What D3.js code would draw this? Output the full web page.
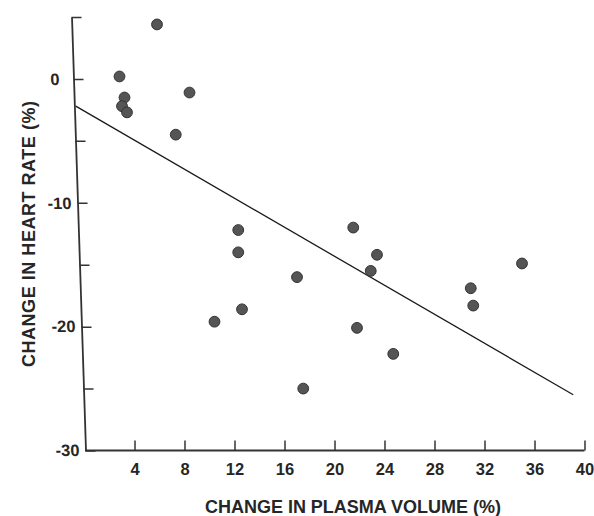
<!DOCTYPE html>
<html>
<head>
<meta charset="utf-8">
<script src="https://cdn.jsdelivr.net/npm/d3@7"></script>
<style>
  body { margin: 0; background: #fff; }
  text { font-family: "Liberation Sans", Arial, Helvetica, sans-serif; font-weight: bold; fill: #262626; }
</style>
</head>
<body>
<svg id="chart" width="594" height="516"></svg>
<script>
// ---- data ----
var plasmaChange = [5.8, 2.8, 3.2, 3.0, 3.4, 8.4, 7.3, 12.3, 12.3, 21.5, 23.4,
                    22.9, 17.0, 12.6, 10.4, 17.5, 35.0, 30.9, 31.1, 21.8, 24.7];
var heartChange  = [4.4, 0.2, -1.5, -2.2, -2.7, -1.1, -4.5, -12.2, -14.0, -12.0, -14.2,
                    -15.5, -16.0, -18.6, -19.6, -25.0, -14.9, -16.9, -18.3, -20.1, -22.2];
var fitX = [-0.7, 39.1];
var fitY = [-2.2, -25.5];
var xTicks = [4, 8, 12, 16, 20, 24, 28, 32, 36, 40];
var yTicks = [-30, -25, -20, -15, -10, -5, 0, 5];
var yLabels = [-30, -20, -10, 0];

var svg = d3.select("#chart");

var x = d3.scaleLinear().domain([0, 40]).range([84.5, 584.5]);
var y = d3.scaleLinear().domain([-30, 5]).range([450.5, 17]);

// ----- X AXIS -----
var xAxis = svg.append("g")
  .attr("transform", "translate(0," + y(-30) + ")")
  .call(d3.axisBottom(x).tickValues(xTicks).tickSize(-10).tickPadding(13).tickFormat(d3.format("d")));
xAxis.select(".domain").attr("d", "M" + (x(0) + 0.5) + ",0H" + x(40)).attr("stroke", "#333").attr("stroke-width", 1.8);
xAxis.selectAll(".tick line").attr("stroke", "#333").attr("stroke-width", 1.5);
xAxis.selectAll("text").style("font-size", "16.5px");

// ----- Y AXIS (scan is slightly slanted) -----
var yAxis = svg.append("g")
  .attr("transform", "translate(" + (x(0) + 1) + "," + y(-30) + ") skewX(1.85) translate(0," + (-y(-30)) + ")")
  .call(d3.axisLeft(y).tickValues(yTicks).tickSize(-10).tickPadding(8).tickSizeOuter(0)
    .tickFormat(function(d) { return yLabels.indexOf(d) >= 0 ? d : ""; }));
yAxis.select(".domain").attr("stroke", "#333").attr("stroke-width", 1.8);
yAxis.selectAll(".tick line").attr("stroke", "#333").attr("stroke-width", 1.5);
yAxis.selectAll("text").style("font-size", "16.5px")
  .attr("x", function(d) { return d === 0 ? -14 : -6; });

svg.selectAll(".tick text").attr("fill", "#262626").style("font-family", null);

// ----- regression line -----
svg.append("line")
  .attr("x1", x(fitX[0])).attr("y1", y(fitY[0]))
  .attr("x2", x(fitX[1])).attr("y2", y(fitY[1]))
  .attr("stroke", "#1a1a1a")
  .attr("stroke-width", 1.3);

// ----- points -----
svg.selectAll("circle.pt")
  .data(d3.range(plasmaChange.length))
  .enter()
  .append("circle")
  .attr("class", "pt")
  .attr("cx", function(i) { return x(plasmaChange[i]); })
  .attr("cy", function(i) { return y(heartChange[i]); })
  .attr("r", 5.4)
  .attr("fill", "#555")
  .attr("stroke", "#333")
  .attr("stroke-width", 1);

// ----- titles -----
svg.append("text")
  .attr("x", 353)
  .attr("y", 513)
  .attr("text-anchor", "middle")
  .attr("textLength", 296)
  .style("font-size", "18px")
  .text("CHANGE IN PLASMA VOLUME (%)");

svg.append("text")
  .attr("transform", "translate(34.5,234) rotate(-90)")
  .attr("text-anchor", "middle")
  .attr("textLength", 266)
  .style("font-size", "18px")
  .text("CHANGE IN HEART RATE (%)");
</script>
</body>
</html>
